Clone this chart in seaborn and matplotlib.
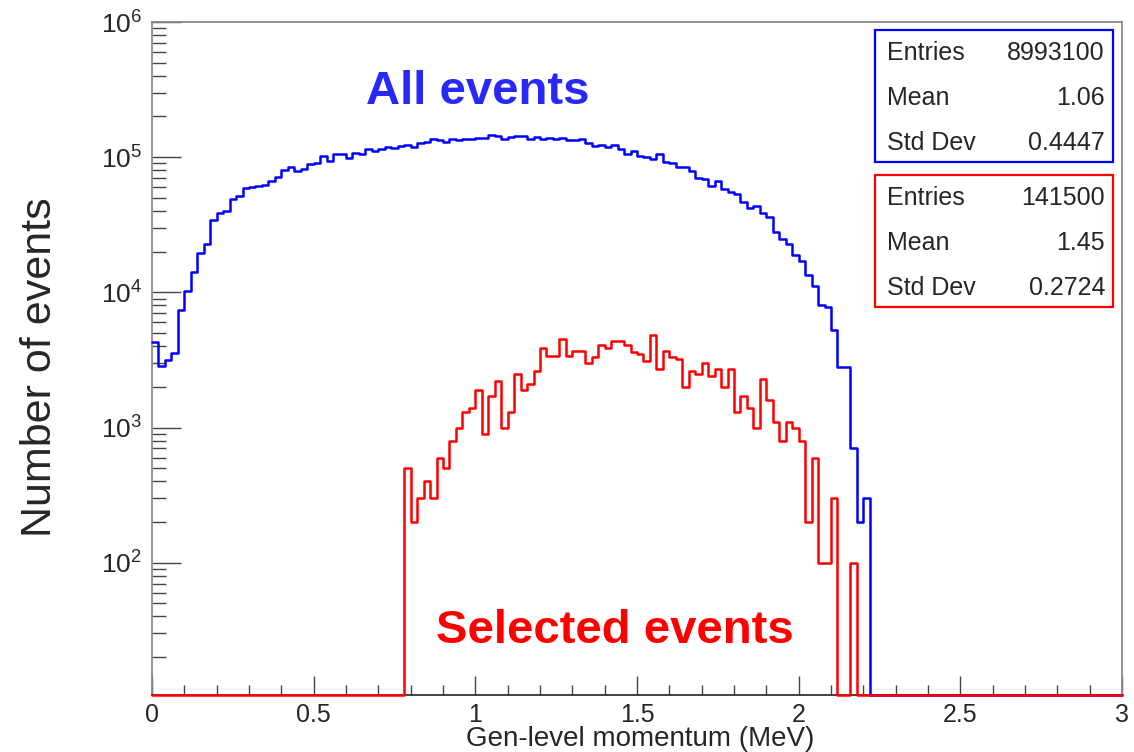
import numpy as np
import pandas as pd
import matplotlib
matplotlib.use("Agg")
import matplotlib.pyplot as plt
import seaborn as sns
from matplotlib.patches import Rectangle
from matplotlib.ticker import FixedLocator, LogLocator, NullFormatter, FuncFormatter, MultipleLocator

# ---------------- data ----------------
bin_width = 0.02
x_range = (0.0, 3.0)

all_start = 0.0
all_counts = [
    4270, 2860, 3160, 3530, 7400, 10300, 14200, 19500, 22800, 34400,
    38900, 40000, 49100, 51600, 58900, 60000, 61700, 62700, 66700, 71800,
    80500, 84700, 79300, 81900, 89700, 91200, 102000, 93300, 105000, 105000,
    98400, 107000, 105000, 115000, 112000, 115000, 119000, 117000, 120000, 122000,
    118000, 127000, 129000, 137000, 134000, 129000, 136000, 134000, 136000, 137000,
    139000, 139000, 146000, 144000, 136000, 142000, 144000, 144000, 136000, 140000,
    136000, 138000, 136000, 138000, 134000, 134000, 137000, 128000, 120000, 122000,
    119000, 122000, 115000, 105000, 111000, 102000, 100000, 96600, 106000, 92700,
    90400, 85300, 85300, 79300, 69800, 69000, 61200, 66700, 57900, 55100,
    53500, 46500, 42400, 43900, 38500, 36000, 27800, 24800, 22800, 18900,
    17100, 13400, 11200, 8100, 7800, 5300, 2800, 2800, 700, 200,
    300,
]

sel_start = 0.78
sel_counts = [
    500, 200, 300, 400, 300, 600, 500, 800, 1000, 1300,
    1400, 1900, 900, 1700, 2200, 1000, 1300, 2500, 1900, 2100,
    2600, 3900, 3400, 3400, 4500, 3400, 3700, 3700, 3000, 3300,
    4100, 3900, 4400, 4400, 4100, 3600, 3500, 3100, 4800, 2700,
    3700, 3300, 3200, 2000, 2600, 2500, 3000, 2400, 2700, 2000,
    2700, 1300, 1700, 1400, 1000, 2300, 1600, 1100, 800, 1100,
    1000, 800, 200, 600, 100, 100, 300, 0, 0, 100,
]

x_ticks = [0, 0.5, 1, 1.5, 2, 2.5, 3]
x_tick_labels = ["0", "0.5", "1", "1.5", "2", "2.5", "3"]
y_limits = (10.5, 1e6)

x_title = "Gen-level momentum (MeV)"
y_title = "Number of events"
label_all = "All events"
label_sel = "Selected events"

stats_all_names = ["Entries", "Mean", "Std Dev"]
stats_all_values = ["8993100", "1.06", "0.4447"]
stats_sel_names = ["Entries", "Mean", "Std Dev"]
stats_sel_values = ["141500", "1.45", "0.2724"]

# ---------------- build tables ----------------
n_bins = int(round((x_range[1] - x_range[0]) / bin_width))
edges = np.linspace(x_range[0], x_range[1], n_bins + 1)
centers = 0.5 * (edges[:-1] + edges[1:])


def full_hist(start, counts):
    h = np.zeros(n_bins)
    i0 = int(round((start - x_range[0]) / bin_width))
    h[i0:i0 + len(counts)] = counts
    return h


h_all = full_hist(all_start, all_counts)
h_sel = full_hist(sel_start, sel_counts)
df = pd.DataFrame({
    "x": np.concatenate([centers, centers]),
    "w": np.concatenate([np.where(h_all > 0, h_all, y_limits[0]),
                         np.where(h_sel > 0, h_sel, y_limits[0])]),
    "sample": [label_all] * n_bins + [label_sel] * n_bins,
})

# ---------------- style ----------------
sns.set_style("ticks")
plt.rcParams["font.family"] = ["Liberation Sans", "DejaVu Sans"]
plt.rcParams["mathtext.fontset"] = "custom"
plt.rcParams["mathtext.rm"] = "Liberation Sans"
plt.rcParams["mathtext.it"] = "Liberation Sans:italic"
plt.rcParams["mathtext.bf"] = "Liberation Sans:bold"

fig = plt.figure(figsize=(11.34, 7.52), dpi=100)
W, H = 1134, 752
L, R, T, B = 152, 1122, 22, 695
ax = fig.add_axes([L / W, 1 - B / H, (R - L) / W, (B - T) / H])

blue = "#0000ff"
red = "#ff0000"

for name, col in [(label_all, blue), (label_sel, red)]:
    sub = df[df["sample"] == name]
    sns.histplot(data=sub, x="x", weights="w", bins=n_bins, binrange=x_range,
                 element="step", fill=False, color=col, linewidth=1.8, ax=ax)
    ln = ax.lines[-1]
    ln.set_clip_on(False)
    ln.set_zorder(4)

ax.set_yscale("log")
ax.set_xlim(*x_range)
ax.set_ylim(*y_limits)
ax.set_xlabel("")
ax.set_ylabel("")

for side, s in ax.spines.items():
    s.set_visible(True)
    s.set_linewidth(1.3)
    s.set_color("#333333" if side == "bottom" else "#8a8a8a")

ax.xaxis.set_major_locator(FixedLocator(x_ticks))
ax.set_xticklabels(x_tick_labels)
ax.xaxis.set_minor_locator(MultipleLocator(0.1))
ax.yaxis.set_major_locator(LogLocator(base=10, numticks=10))
ax.yaxis.set_minor_locator(LogLocator(base=10, subs=np.arange(2, 10), numticks=100))
ax.yaxis.set_minor_formatter(NullFormatter())
ax.yaxis.set_major_formatter(FuncFormatter(
    lambda v, p: r"$\mathdefault{10^{%d}}$" % int(round(np.log10(v)))))

ax.tick_params(axis="both", which="both", direction="in", top=False, right=False,
               color="#444444", width=1.0)
ax.tick_params(axis="x", which="major", length=14, labelsize=18, pad=6)
ax.tick_params(axis="x", which="minor", length=7)
ax.tick_params(axis="y", which="major", length=21, labelsize=19, pad=7)
ax.tick_params(axis="y", which="minor", length=10)

# axis titles
fig.text(640 / W, 1 - 746 / H, x_title, ha="center", va="baseline", fontsize=20)
fig.text(40 / W, 1 - 367 / H, y_title, ha="center", va="center", rotation=90, fontsize=31)

# labels
fig.text(478 / W, 1 - 104 / H, label_all, ha="center", va="baseline", fontsize=34,
         fontweight="bold", color="#2828f8")
fig.text(615 / W, 1 - 643 / H, label_sel, ha="center", va="baseline", fontsize=34,
         fontweight="bold", color=red)

# stat boxes
for (y0, y1, col, names, vals) in [
    (30, 162, blue, stats_all_names, stats_all_values),
    (175, 307, red, stats_sel_names, stats_sel_values),
]:
    fig.patches.append(Rectangle((875 / W, 1 - y1 / H), (1113 - 875) / W, (y1 - y0) / H,
                                 transform=fig.transFigure, fill=True, facecolor="white",
                                 edgecolor=col, linewidth=1.6, zorder=5))
    for k, (n, v) in enumerate(zip(names, vals)):
        yy = y0 + 23 + 45 * k
        fig.text(887 / W, 1 - yy / H, n, ha="left", va="center", fontsize=18, zorder=6)
        fig.text(1105 / W, 1 - yy / H, v, ha="right", va="center", fontsize=18, zorder=6)

fig.savefig("out.png", dpi=100)
